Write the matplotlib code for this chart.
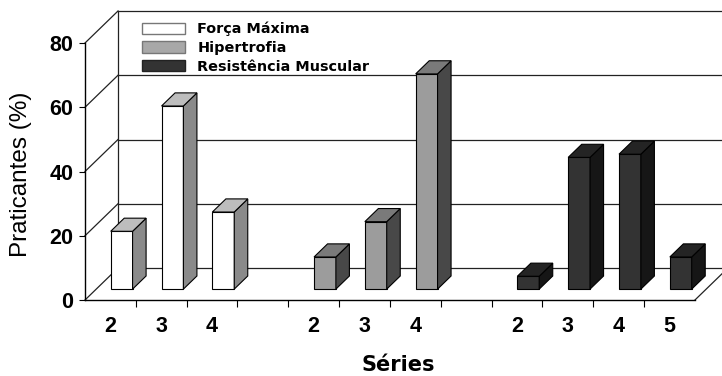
import matplotlib
matplotlib.use("Agg")
import matplotlib.pyplot as plt
from matplotlib.patches import Polygon, Patch

# percentagem de praticantes por numero de series
cat_labels = ['2', '3', '4', '', '2', '3', '4', '', '2', '3', '4', '5']
forca_pos = [0, 1, 2]
forca_val = [18, 57, 24]
hiper_pos = [4, 5, 6]
hiper_val = [10, 21, 67]
resist_pos = [8, 9, 10, 11]
resist_val = [4, 41, 42, 10]

W, H = 722, 376
PX_CAT = 50.83      # pixels por categoria
PX_VAL = 3.2125     # pixels por unidade (%)

fig = plt.figure(figsize=(W / 100, H / 100), dpi=100)
ax = fig.add_axes([85 / W, 76 / H, 637 / W, 300 / H])
ax.set_xlim(0, 637 / PX_CAT)
ax.set_ylim(0, 300 / PX_VAL)

DX = 33 / PX_CAT    # profundidade do grafico
DY = 32 / PX_VAL
ncat = len(cat_labels)

# paredes (linhas de grade no fundo e na lateral)
lc = dict(color='#222222', lw=0.9, clip_on=False, zorder=1)
for v in range(0, 81, 20):
    ax.plot([DX, 637 / PX_CAT], [v + DY, v + DY], **lc)
    ax.plot([0, DX], [v, v + DY], **lc)
ax.plot([DX, DX], [DY, 80 + DY], **lc)
ax.plot([ncat, ncat + DX], [0, DY], **lc)

# barras em pseudo-3D
d0, d1 = 0.34, 0.75
bw = 0.43


def barra(x, v, front, top, side):
    xl = x + 0.5 - bw / 2 + d0 * DX
    xr = xl + bw
    yb = d0 * DY
    yt = v + d0 * DY
    ox = (d1 - d0) * DX
    oy = (d1 - d0) * DY
    kw = dict(edgecolor='black', lw=0.8, zorder=3, clip_on=False)
    ax.add_patch(Polygon([(xl, yb), (xr, yb), (xr, yt), (xl, yt)], facecolor=front, **kw))
    ax.add_patch(Polygon([(xr, yb), (xr + ox, yb + oy), (xr + ox, yt + oy), (xr, yt)], facecolor=side, **kw))
    ax.add_patch(Polygon([(xl, yt), (xr, yt), (xr + ox, yt + oy), (xl + ox, yt + oy)], facecolor=top, **kw))


for x, v in zip(forca_pos, forca_val):
    barra(x, v, 'white', '#bdbdbd', '#8a8a8a')
for x, v in zip(hiper_pos, hiper_val):
    barra(x, v, '#9c9c9c', '#7a7a7a', '#484848')
for x, v in zip(resist_pos, resist_val):
    barra(x, v, '#333333', '#242424', '#161616')

# eixos
for s in ['top', 'right']:
    ax.spines[s].set_visible(False)
ax.spines['left'].set_bounds(0, 80)
ax.spines['bottom'].set_bounds(0, ncat)
ax.spines['left'].set_linewidth(1.0)
ax.spines['bottom'].set_linewidth(1.0)

ax.set_yticks(range(0, 81, 20))
ax.set_yticklabels([str(v) for v in range(0, 81, 20)],
                   fontfamily='Liberation Sans', fontweight='bold', fontsize=15.5)
ax.tick_params(axis='y', length=4, pad=4.5)

ax.set_xticks(range(1, ncat))
ax.set_xticklabels([])
ax.set_xticks([i + 0.5 for i in range(ncat)], minor=True)
ax.set_xticklabels(cat_labels, minor=True,
                   fontfamily='Liberation Sans', fontweight='bold', fontsize=15.5)
ax.tick_params(axis='x', which='major', length=5)
ax.tick_params(axis='x', which='minor', length=0, pad=11.5)

ax.set_ylabel('Praticantes (%)', fontfamily='Liberation Sans', fontsize=17.5)
ax.yaxis.set_label_coords(-0.083, 0.42)
fig.text(398 / W, 1 - 365 / H, 'Séries', ha='center', va='center',
         fontfamily='DejaVu Sans', fontweight='bold', fontsize=15)

handles = [Patch(facecolor='white', edgecolor='#777777', label='Força Máxima'),
           Patch(facecolor='#a8a8a8', edgecolor='#777777', label='Hipertrofia'),
           Patch(facecolor='#333333', edgecolor='#222222', label='Resistência Muscular')]
ax.legend(handles=handles, loc='upper left', bbox_to_anchor=(142 / W, 1 - 22 / H),
          bbox_transform=fig.transFigure, frameon=False, borderpad=0, borderaxespad=0,
          handlelength=3.0, handleheight=0.83, handletextpad=0.83, labelspacing=0.32,
          prop=dict(family='DejaVu Sans', weight='bold', size=10.4))

fig.savefig('out.png', dpi=100)
